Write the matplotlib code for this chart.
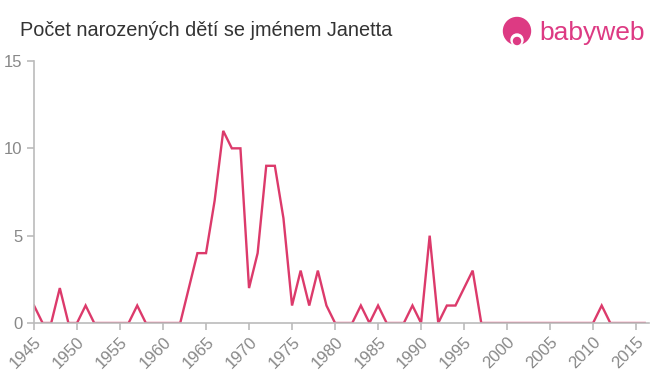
import matplotlib.pyplot as plt
from matplotlib.patches import Circle

plt.rcParams['font.family'] = ['Liberation Sans', 'DejaVu Sans']

# --- dane ---
years = list(range(1945, 2017))
counts = [1, 0, 0, 2, 0, 0, 1, 0, 0, 0, 0, 0, 1, 0, 0, 0, 0, 0, 2, 4,
          4, 7, 11, 10, 10, 2, 4, 9, 9, 6, 1, 3, 1, 3, 1, 0, 0, 0, 1, 0,
          1, 0, 0, 0, 1, 0, 5, 0, 1, 1, 2, 3, 0, 0, 0, 0, 0, 0, 0, 0,
          0, 0, 0, 0, 0, 0, 1, 0, 0, 0, 0, 0]
xticks = list(range(1945, 2016, 5))
yticks = [0, 5, 10, 15]
title = 'Počet narozených dětí se jménem Janetta'

line_color = '#dc3a6b'
axis_color = '#bbbbbb'
text_color = '#888888'

W, H = 660, 375
fig = plt.figure(figsize=(6.6, 3.75), dpi=100)
ax = fig.add_axes([34 / W, 1 - 323 / H, (649 - 34) / W, (323 - 61) / H])

ax.plot(years, counts, color=line_color, linewidth=1.7, solid_joinstyle='miter')

ax.set_xlim(1945, 2016.5)
ax.set_ylim(0, 15)
ax.set_xticks(xticks)
ax.set_yticks(yticks)
ax.set_xticklabels([str(x) for x in xticks], rotation=45, ha='right',
                   rotation_mode='anchor', color=text_color, fontsize=12)
ax.set_yticklabels([str(y) for y in yticks], color=text_color, fontsize=12)

for side in ['top', 'right']:
    ax.spines[side].set_visible(False)
for side in ['left', 'bottom']:
    ax.spines[side].set_color(axis_color)
    ax.spines[side].set_linewidth(1.2)
ax.tick_params(axis='both', colors=axis_color, length=5, width=1.2,
               labelcolor=text_color)
ax.tick_params(axis='x', pad=3)

# tytuł
fig.text(20 / W, 1 - 30 / H, title, fontsize=14.3, color='#333333',
         va='center', ha='left')

# logo babyweb
logo_color = '#dd3a83'
fig.patches.append(Circle((517, H - 31), 13.5, transform=None, color=logo_color))
fig.patches.append(Circle((517, H - 40), 6, transform=None, color='white'))
fig.patches.append(Circle((517, H - 41), 3.5, transform=None, color=logo_color))
fig.text(539 / W, 1 - 33 / H, 'babyweb', fontsize=19, color=logo_color,
         va='center', ha='left')

fig.savefig('out.png', dpi=100)
